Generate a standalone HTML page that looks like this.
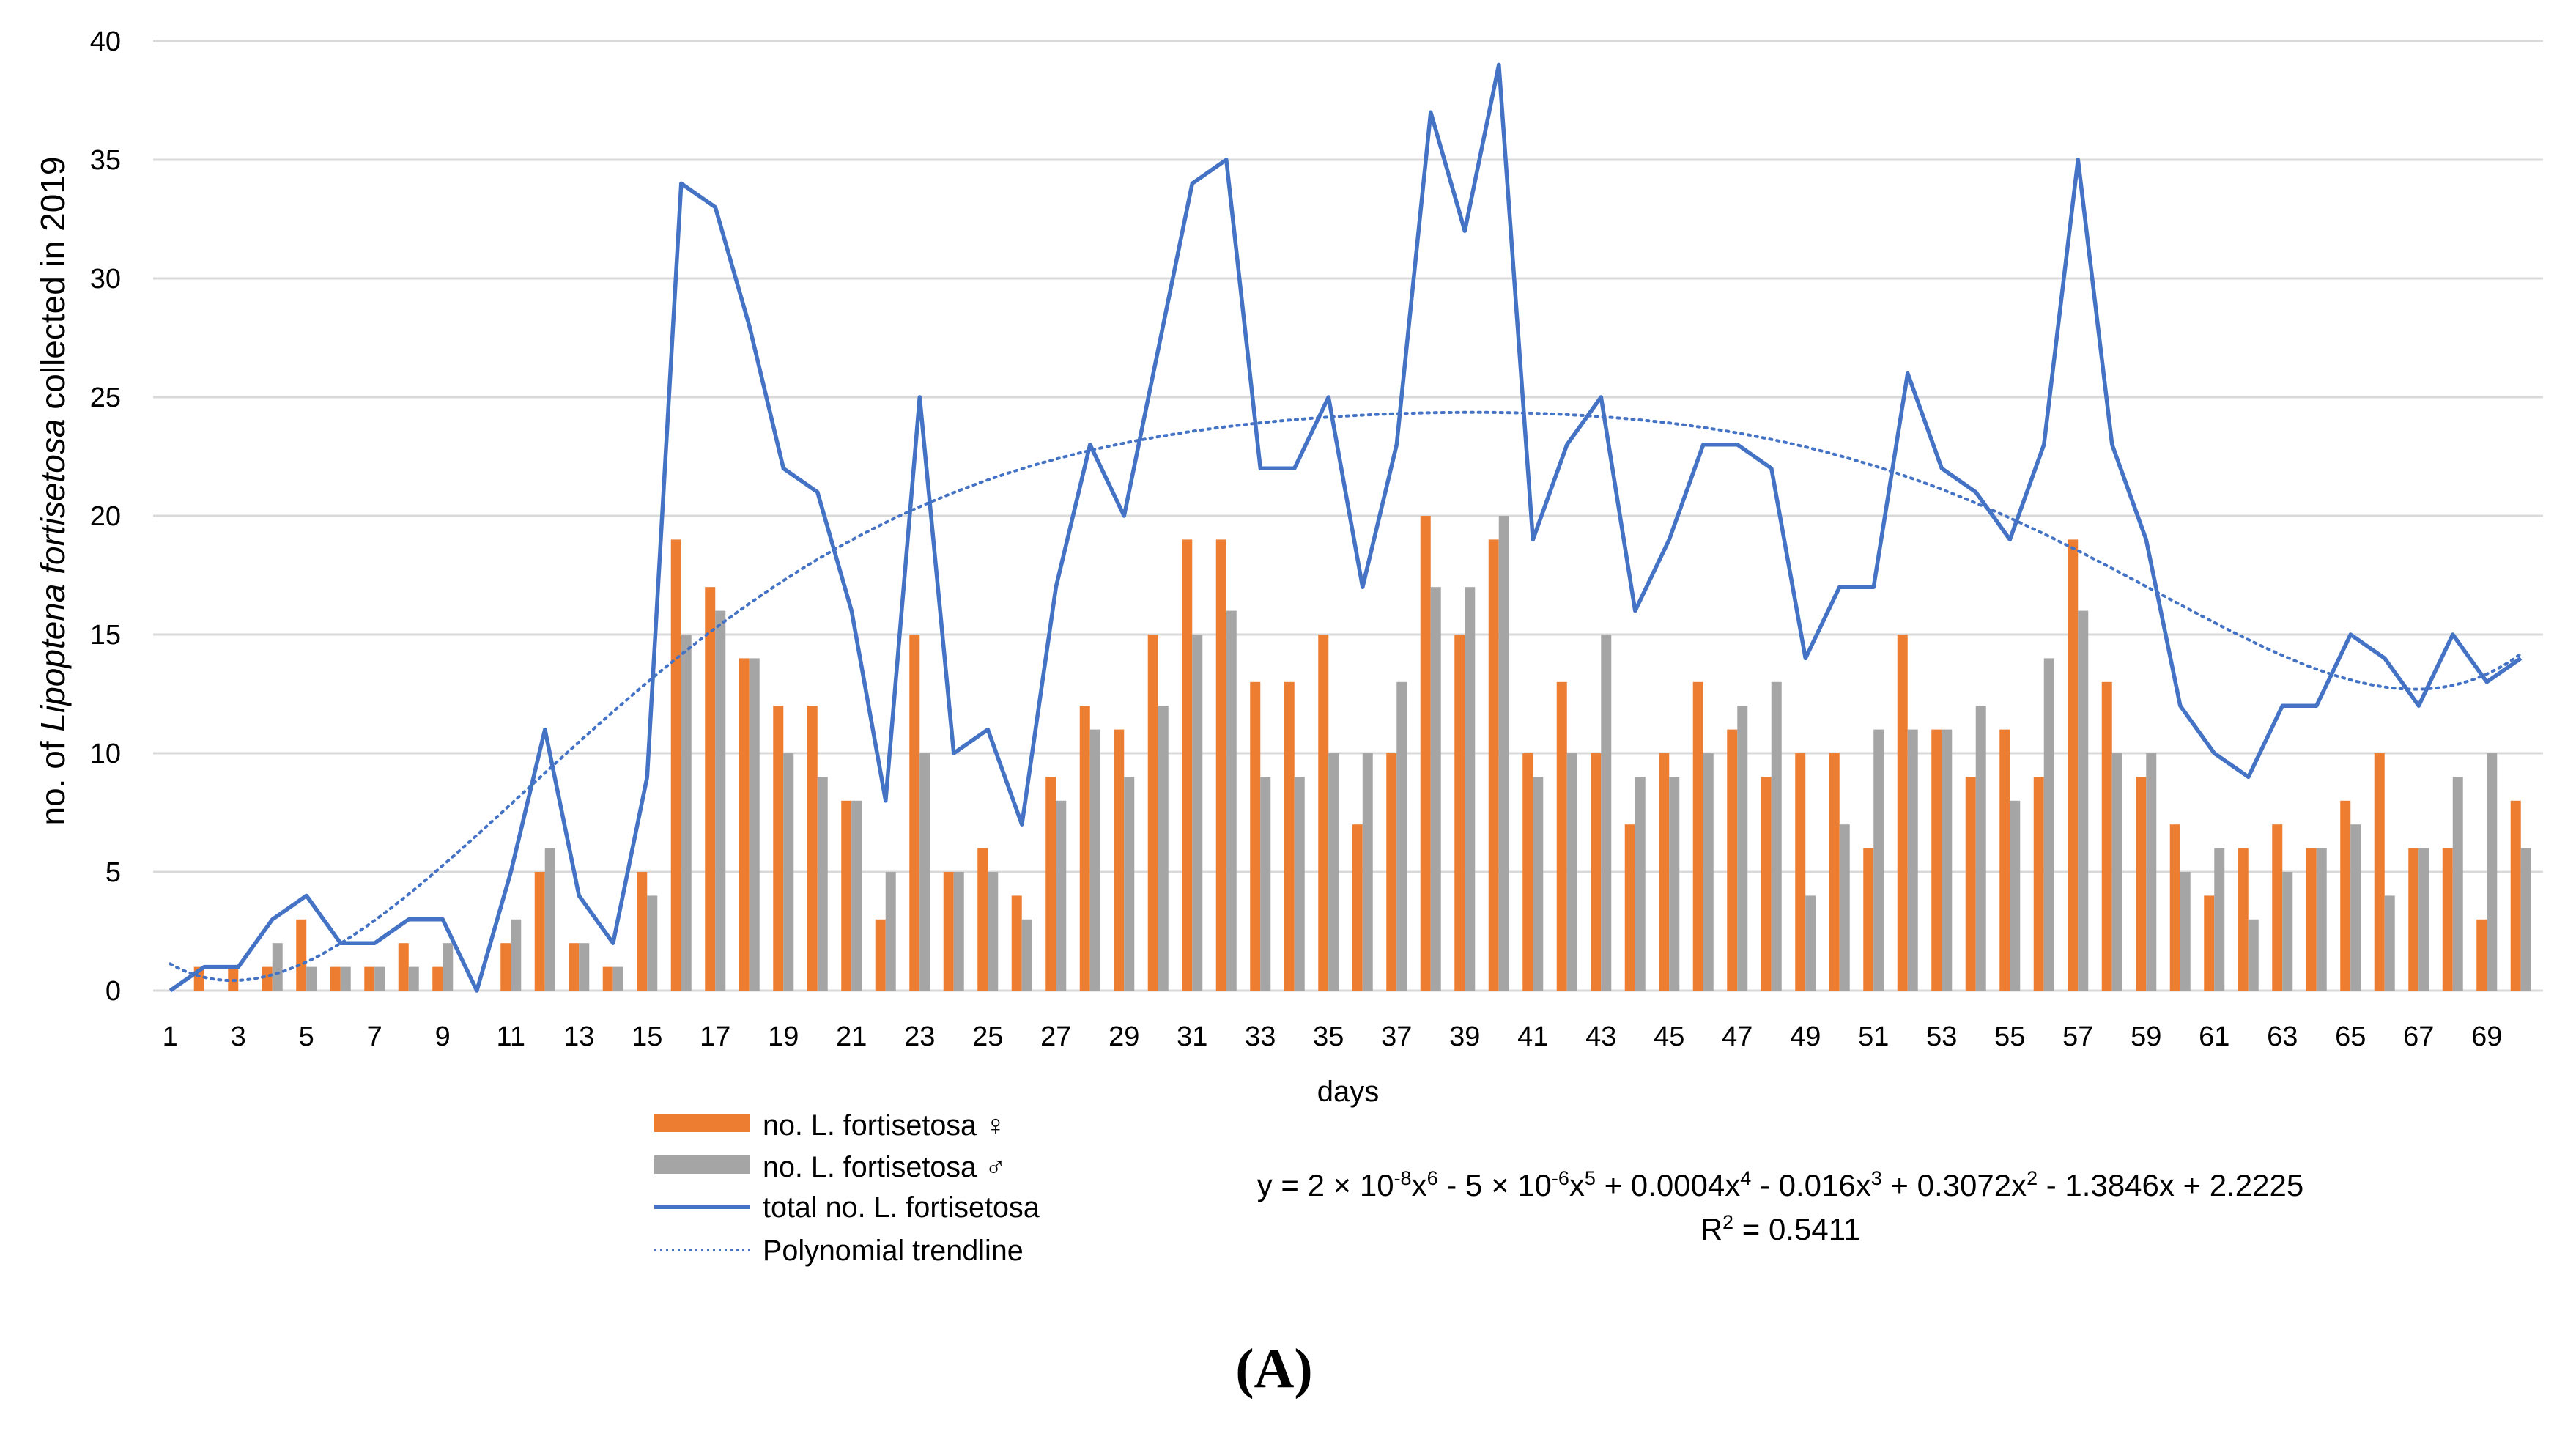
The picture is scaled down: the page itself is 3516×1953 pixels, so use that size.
<!DOCTYPE html>
<html><head><meta charset="utf-8"><style>
html,body{margin:0;padding:0;background:#fff;}
svg text{font-family:"Liberation Sans",sans-serif;fill:#000;}
</style></head><body>
<svg id="chart" width="3516" height="1948" viewBox="0 0 3516 1948" xmlns="http://www.w3.org/2000/svg">
<g id="grid"></g>
<g id="bars"></g>
<g id="lines"></g>
<g id="yticks"></g>
<g id="xticks"></g>
<text transform="translate(88,670) rotate(-90)" text-anchor="middle" font-size="46">no. of <tspan font-style="italic">Lipoptena fortisetosa</tspan> collected in 2019</text>
<text x="1840" y="1503" text-anchor="middle" font-size="40">days</text>
<g>
<rect x="893" y="1520" width="131" height="25" fill="#ED7D31"/>
<text x="1041" y="1549" font-size="39.5">no. L. fortisetosa ♀</text>
<rect x="893" y="1577" width="131" height="25" fill="#A5A5A5"/>
<text x="1041" y="1606" font-size="39.5">no. L. fortisetosa ♂</text>
<line x1="893" y1="1647" x2="1024" y2="1647" stroke="#4472C4" stroke-width="6"/>
<text x="1041" y="1661" font-size="39.5">total no. L. fortisetosa</text>
<line x1="893" y1="1706" x2="1024" y2="1706" stroke="#4472C4" stroke-width="3.5" stroke-dasharray="3 5"/>
<text x="1041" y="1720" font-size="39.5">Polynomial trendline</text>
</g>
<text x="2430" y="1632" text-anchor="middle" font-size="42">y = 2 × 10<tspan font-size="27" dy="-15">-8</tspan><tspan dy="15">x</tspan><tspan font-size="27" dy="-15">6</tspan><tspan dy="15"> - 5 × 10</tspan><tspan font-size="27" dy="-15">-6</tspan><tspan dy="15">x</tspan><tspan font-size="27" dy="-15">5</tspan><tspan dy="15"> + 0.0004x</tspan><tspan font-size="27" dy="-15">4</tspan><tspan dy="15"> - 0.016x</tspan><tspan font-size="27" dy="-15">3</tspan><tspan dy="15"> + 0.3072x</tspan><tspan font-size="27" dy="-15">2</tspan><tspan dy="15"> - 1.3846x + 2.2225</tspan></text>
<text x="2430" y="1692" text-anchor="middle" font-size="42">R<tspan font-size="27" dy="-15">2</tspan><tspan dy="15"> = 0.5411</tspan></text>
<text x="1739" y="1893" text-anchor="middle" font-size="76" font-weight="bold" style="font-family:'Liberation Serif',serif">(A)</text>
</svg>
<script>
const days = Array.from({length:70},(_,i)=>i+1);
const females = [0,1,1,1,3,1,1,2,1,0,2,5,2,1,5,19,17,14,12,12,8,3,15,5,6,4,9,12,11,15,19,19,13,13,15,7,10,20,15,19,10,13,10,7,10,13,11,9,10,10,6,15,11,9,11,9,19,13,9,7,4,6,7,6,8,10,6,6,3,8];
const males = [0,0,0,2,1,1,1,1,2,0,3,6,2,1,4,15,16,14,10,9,8,5,10,5,5,3,8,11,9,12,15,16,9,9,10,10,13,17,17,20,9,10,15,9,9,10,12,13,4,7,11,11,11,12,8,14,16,10,10,5,6,3,5,6,7,4,6,9,10,6];
const totals = [0,1,1,3,4,2,2,3,3,0,5,11,4,2,9,34,33,28,22,21,16,8,25,10,11,7,17,23,20,27,34,35,22,22,25,17,23,37,32,39,19,23,25,16,19,23,23,22,14,17,17,26,22,21,19,23,35,23,19,12,10,9,12,12,15,14,12,15,13,14];
const yTicks = [0,5,10,15,20,25,30,35,40];
const xTickLabels = days.filter(d=>d%2===1);

const NS="http://www.w3.org/2000/svg";
const left=209, right=3464, y0=1352, y40=56;
const step=(right-left)/days.length;
function xs(i){return left+step*(i+0.5);}
function ys(v){return y0-(v/40)*(y0-y40);}
function mk(tag,attrs,parent){const e=document.createElementNS(NS,tag);for(const k in attrs)e.setAttribute(k,attrs[k]);parent.appendChild(e);return e;}
const grid=document.getElementById('grid'),bars=document.getElementById('bars'),lines=document.getElementById('lines'),yt=document.getElementById('yticks'),xt=document.getElementById('xticks');
yTicks.forEach(v=>{
  const l=mk('line',{x1:left,x2:right+7,y1:ys(v),y2:ys(v),stroke:'#D9D9D9','stroke-width':3},grid);
  
  
  const t=mk('text',{x:165,y:ys(v)+13,'text-anchor':'end','font-size':38},yt);t.textContent=v;
  
  
});
xTickLabels.forEach(d=>{
  const t=mk('text',{x:xs(d-1),y:1427,'text-anchor':'middle','font-size':38},xt);t.textContent=d;
  
  
});
const bw=14;
days.forEach((d,i)=>{
  const cx=xs(i);
  const f=mk('rect',{x:cx-bw,y:ys(females[i]),width:bw,height:y0-ys(females[i]),fill:'#ED7D31'},bars);
  
  
  const m=mk('rect',{x:cx,y:ys(males[i]),width:bw,height:y0-ys(males[i]),fill:'#A5A5A5'},bars);
  
  
});
const n=days.length, deg=6;
const tx=days.map(d=>(d-35.5)/34.5);
const A=[];for(let r=0;r<=deg;r++){A.push(new Array(deg+2).fill(0));}
for(let k=0;k<n;k++){for(let r=0;r<=deg;r++){for(let c=0;c<=deg;c++)A[r][c]+=Math.pow(tx[k],r+c);A[r][deg+1]+=Math.pow(tx[k],r)*totals[k];}}
for(let c=0;c<=deg;c++){let p=c;for(let r=c+1;r<=deg;r++)if(Math.abs(A[r][c])>Math.abs(A[p][c]))p=r;[A[c],A[p]]=[A[p],A[c]];
 for(let r=0;r<=deg;r++){if(r===c)continue;const f=A[r][c]/A[c][c];for(let j=c;j<=deg+1;j++)A[r][j]-=f*A[c][j];}}
const coef=A.map((row,i)=>row[deg+1]/row[i]);
function poly(t){let s=0;for(let i=0;i<=deg;i++)s+=coef[i]*Math.pow(t,i);return s;}
let tp='';for(let s=0;s<=300;s++){const d=1+69*s/300;const t=(d-35.5)/34.5;tp+=(s?'L':'M')+(xs(d-1)).toFixed(1)+','+ys(poly(t)).toFixed(1);}
const trend=mk('path',{d:tp,fill:'none',stroke:'#4472C4','stroke-width':4,'stroke-dasharray':'3 7','stroke-linecap':'round'},lines);


const lp=totals.map((v,i)=>(i?'L':'M')+xs(i).toFixed(1)+','+ys(v).toFixed(1)).join('');
const tl=mk('path',{d:lp,fill:'none',stroke:'#4472C4','stroke-width':5.5,'stroke-linejoin':'round'},lines);


</script>
</body></html>
